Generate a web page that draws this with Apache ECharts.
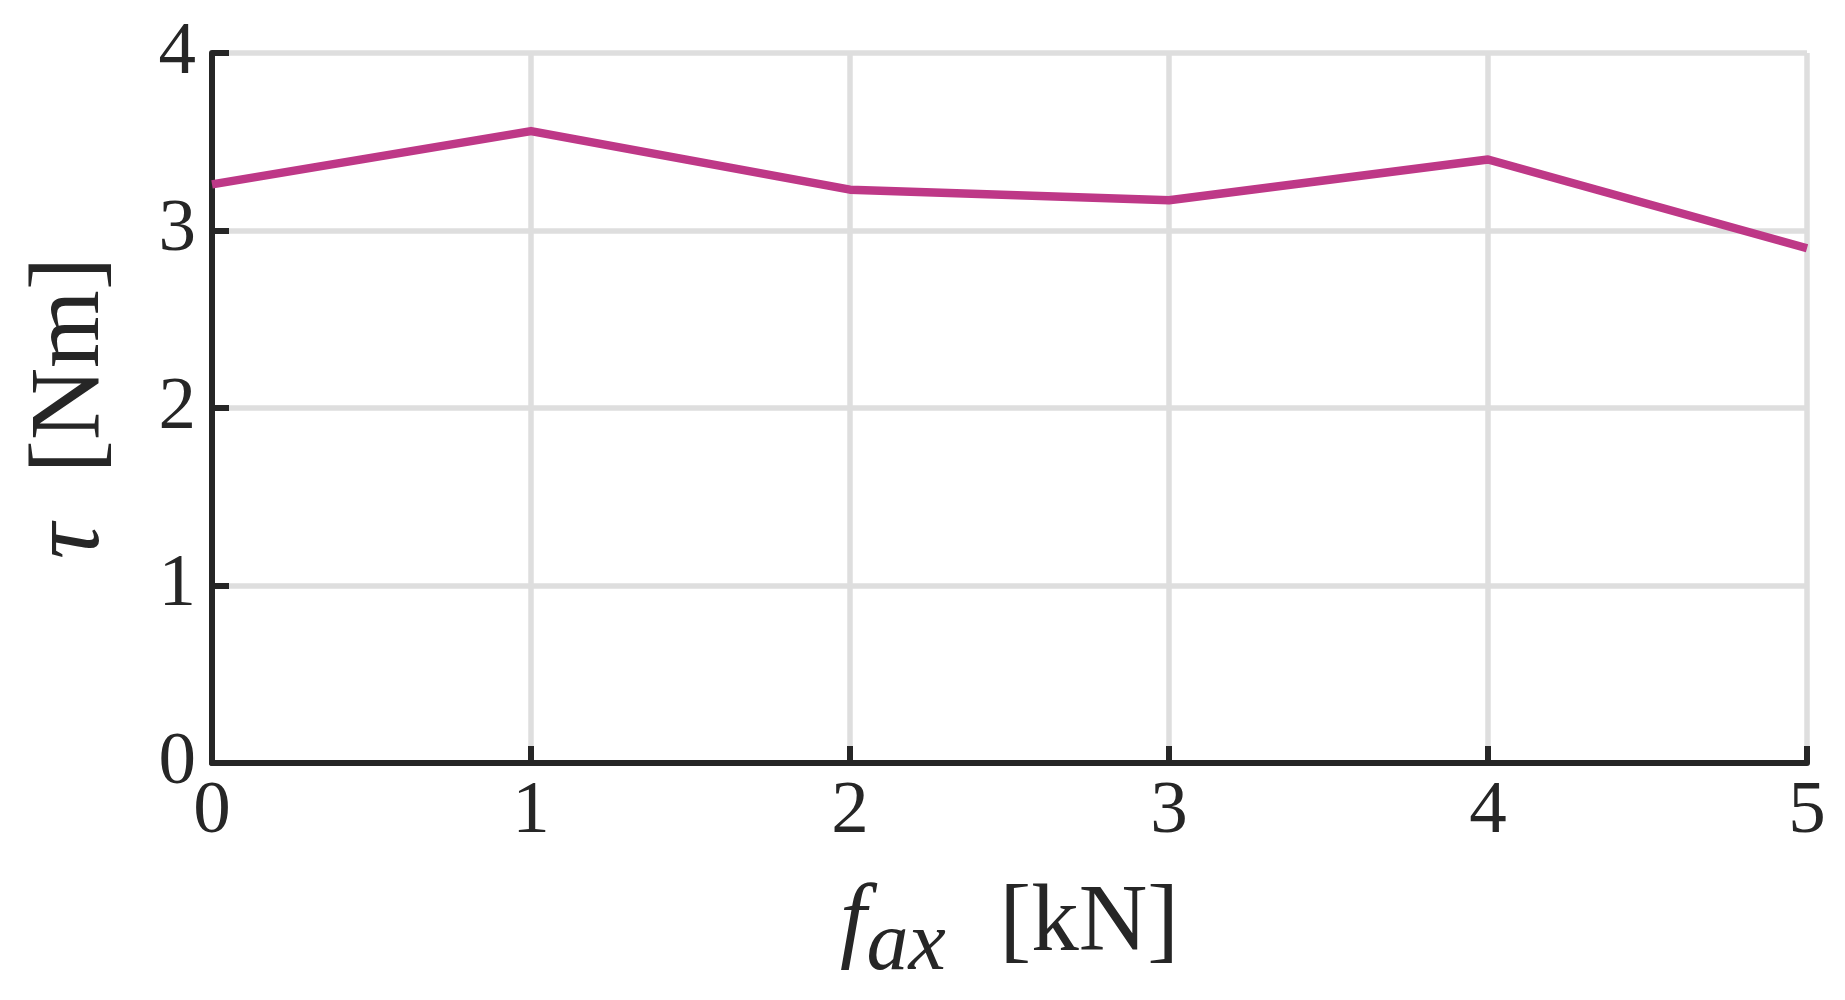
<!DOCTYPE html>
<html>
<head>
<meta charset="utf-8">
<style>
  html, body { margin: 0; padding: 0; background: #ffffff; }
  #chart { width: 1845px; height: 1000px; }
</style>
<script src="https://cdn.jsdelivr.net/npm/echarts@6/dist/echarts.min.js"></script>
</head>
<body>
<div id="chart"></div>
<script>
// Data
const forceKN = [0, 1, 2, 3, 4, 5];
const torqueNm = [3.26, 3.56, 3.23, 3.17, 3.40, 2.90];
const xTicks = [0, 1, 2, 3, 4, 5];
const yTicks = [0, 1, 2, 3, 4];

const FONT = "'Liberation Serif', 'DejaVu Serif', serif";
const INK = '#262626';
const GRIDC = '#dedede';

const chart = echarts.init(document.getElementById('chart'), null, { renderer: 'canvas' });

const points = forceKN.map((x, i) => [x, torqueNm[i]]);

chart.setOption({
  backgroundColor: '#ffffff',
  animation: false,
  grid: { left: 212, right: 38, top: 53, bottom: 237, containLabel: false },
  xAxis: {
    type: 'value',
    min: xTicks[0],
    max: xTicks[xTicks.length - 1],
    interval: 1,
    name: '{i|f}{sub|ax}{n| [kN]}',
    nameLocation: 'middle',
    nameGap: 98,
    nameTextStyle: {
      color: INK,
      fontFamily: FONT,
      fontSize: 95,
      rich: {
        i: { fontFamily: FONT, fontStyle: 'italic', fontSize: 95, color: INK },
        sub: { fontFamily: FONT, fontStyle: 'italic', fontSize: 84, color: INK, padding: [44, 30, 0, 0] },
        n: { fontFamily: FONT, fontSize: 95, color: INK }
      }
    },
    axisLine: { show: true, onZero: false, lineStyle: { color: INK, width: 6 } },
    axisTick: { show: true, inside: true, length: 17, lineStyle: { color: INK, width: 6 } },
    axisLabel: { color: INK, fontFamily: FONT, fontSize: 75, margin: 12 },
    splitLine: { show: true, lineStyle: { color: GRIDC, width: 5.5 } }
  },
  yAxis: {
    type: 'value',
    min: yTicks[0],
    max: yTicks[yTicks.length - 1],
    interval: 1,
    name: '{i|τ}{n|  [Nm]}',
    nameLocation: 'middle',
    nameRotate: 90,
    nameGap: 90,
    nameTextStyle: {
      color: INK,
      fontFamily: FONT,
      fontSize: 100,
      rich: {
        i: { fontFamily: FONT, fontStyle: 'italic', fontSize: 100, color: INK },
        n: { fontFamily: FONT, fontSize: 100, color: INK }
      }
    },
    axisLine: { show: true, onZero: false, lineStyle: { color: INK, width: 6 } },
    axisTick: { show: true, inside: true, length: 17, lineStyle: { color: INK, width: 6 } },
    axisLabel: { color: INK, fontFamily: FONT, fontSize: 75, margin: 16 },
    splitLine: { show: true, lineStyle: { color: GRIDC, width: 5.5 } }
  },
  series: [{
    type: 'line',
    data: points,
    showSymbol: false,
    symbol: 'none',
    clip: false,
    lineStyle: { color: '#be3887', width: 8.5, join: 'round' },
    z: 3
  }]
});
</script>
</body>
</html>
